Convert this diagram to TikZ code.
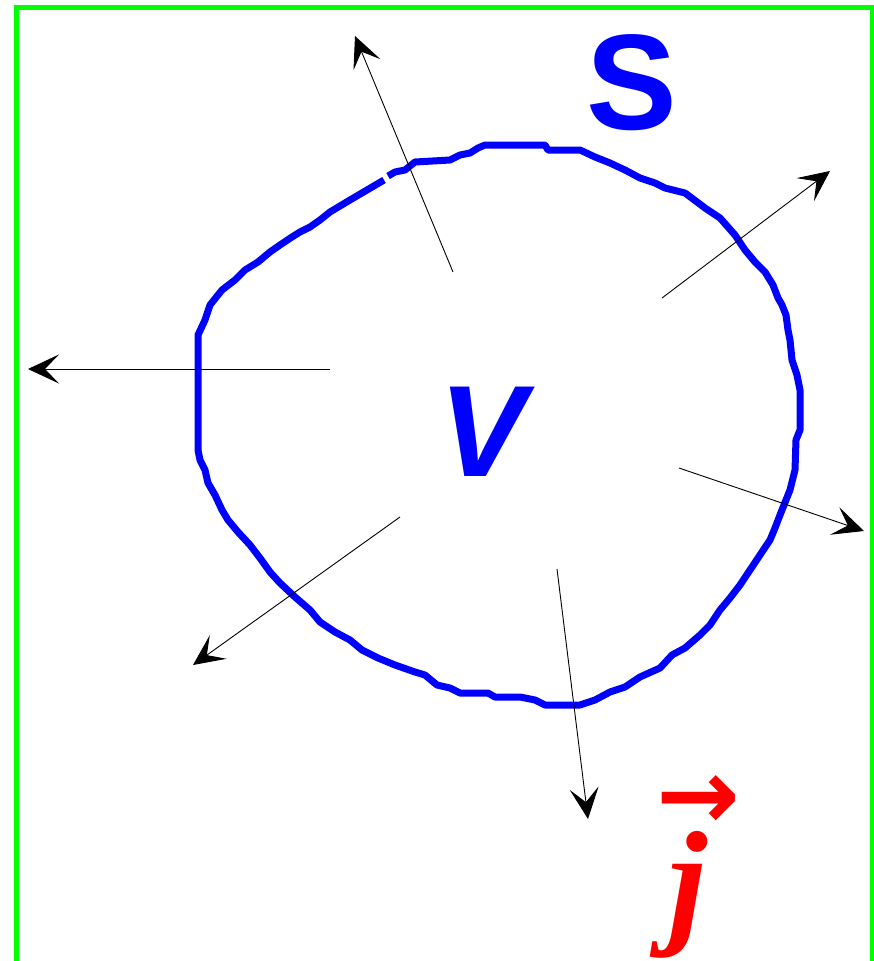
\documentclass[tikz,border=0pt]{standalone}
\usepackage{fontspec}
\usepackage{tikz}
\usetikzlibrary{arrows.meta,positioning}
\newfontfamily\sansbf{Liberation Sans}
\newfontfamily\serifbf{Liberation Serif}
\newfontfamily\arrowfont{DejaVu Sans}

\begin{document}
\begin{tikzpicture}[
    x=1pt,y=-1pt,
    frame/.style={draw={rgb,255:red,0;green,255;blue,0},line width=5pt},
    surf/.style={draw={rgb,255:red,0;green,0;blue,255},line width=7pt,line join=round},
    arr/.style={-{Stealth[length=31pt,width=29pt,inset=14pt]},line width=0.9pt},
    lbl/.style={text={rgb,255:red,0;green,0;blue,255},inner sep=0pt}
]
\useasboundingbox (0,0) rectangle (874,961);
\begin{scope}
\clip (0,0) rectangle (874,961);
\draw[frame] (16,7.5) rectangle (872,990);
\end{scope}

% closed surface S
\draw[surf] (388,176) -- (395,172) -- (405,170) -- (415,162) -- (450,160) -- (460,155)
  -- (470,153) -- (478,148) -- (485,145) -- (545,145) -- (548,150) -- (580,150)
  -- (595,157) -- (610,163) -- (625,170) -- (640,178) -- (655,183) -- (665,188)
  -- (685,193) -- (705,208) -- (720,218) -- (735,235) -- (745,250) -- (755,262)
  -- (765,272) -- (773,285) -- (778,298) -- (782,305) -- (786,315) -- (788,330)
  -- (790,340) -- (792,360) -- (797,375) -- (800,390) -- (800,430) -- (796,440)
  -- (795,470) -- (790,490) -- (786,500) -- (780,515) -- (775,528) -- (770,540)
  -- (760,555) -- (750,570) -- (740,585) -- (730,598) -- (720,610) -- (710,625)
  -- (700,635) -- (685,648) -- (672,655) -- (660,668) -- (640,677) -- (625,687)
  -- (610,692) -- (595,700) -- (580,705) -- (545,705) -- (535,700) -- (520,697)
  -- (495,697) -- (488,693) -- (460,693) -- (450,688) -- (437,685) -- (425,675)
  -- (415,672) -- (395,665) -- (378,658) -- (362,650) -- (350,640) -- (335,632)
  -- (320,622) -- (310,610) -- (295,597) -- (280,583) -- (270,572) -- (260,558)
  -- (250,545) -- (238,532) -- (228,520) -- (222,510) -- (215,495) -- (208,483)
  -- (205,470) -- (200,460) -- (198,450) -- (198,335) -- (205,320) -- (210,305)
  -- (222,290) -- (235,280) -- (245,270) -- (258,262) -- (270,252) -- (280,245)
  -- (292,237) -- (300,232) -- (310,227) -- (320,220) -- (330,212) -- (350,200)
  -- (384,180);

\node[lbl,font=\sansbf\bfseries\fontsize{136}{136}\selectfont] (S) at (632,83) {S};
\node[lbl,font=\sansbf\bfseries\itshape\fontsize{130}{130}\selectfont] (V) at (483,432) {V};
\node[inner sep=0pt,anchor=base west,text={rgb,255:red,255;green,0;blue,0},
      font=\serifbf\bfseries\itshape\fontsize{140}{140}\selectfont] (j) at (668,928)
      {j\rlap{\kern-51pt\raisebox{99pt}{\arrowfont\bfseries\upshape\fontsize{100}{100}\selectfont →}}};

% normals
\coordinate (n1a) at (453,272); \coordinate (n1b) at (355,36);
\coordinate (n2a) at (662,298); \coordinate (n2b) at (830,171);
\coordinate (n3a) at (330,369); \coordinate (n3b) at (28,369);
\coordinate (n4a) at (679,468); \coordinate (n4b) at (864,531);
\coordinate (n5a) at (400,517); \coordinate (n5b) at (193,665);
\coordinate (n6a) at (557,569); \coordinate (n6b) at (588,819);
\draw[arr] (n1a) -- (n1b);
\draw[arr] (n2a) -- (n2b);
\draw[arr] (n3a) -- (n3b);
\draw[arr] (n4a) -- (n4b);
\draw[arr] (n5a) -- (n5b);
\draw[arr] (n6a) -- (n6b);
\end{tikzpicture}
\end{document}
